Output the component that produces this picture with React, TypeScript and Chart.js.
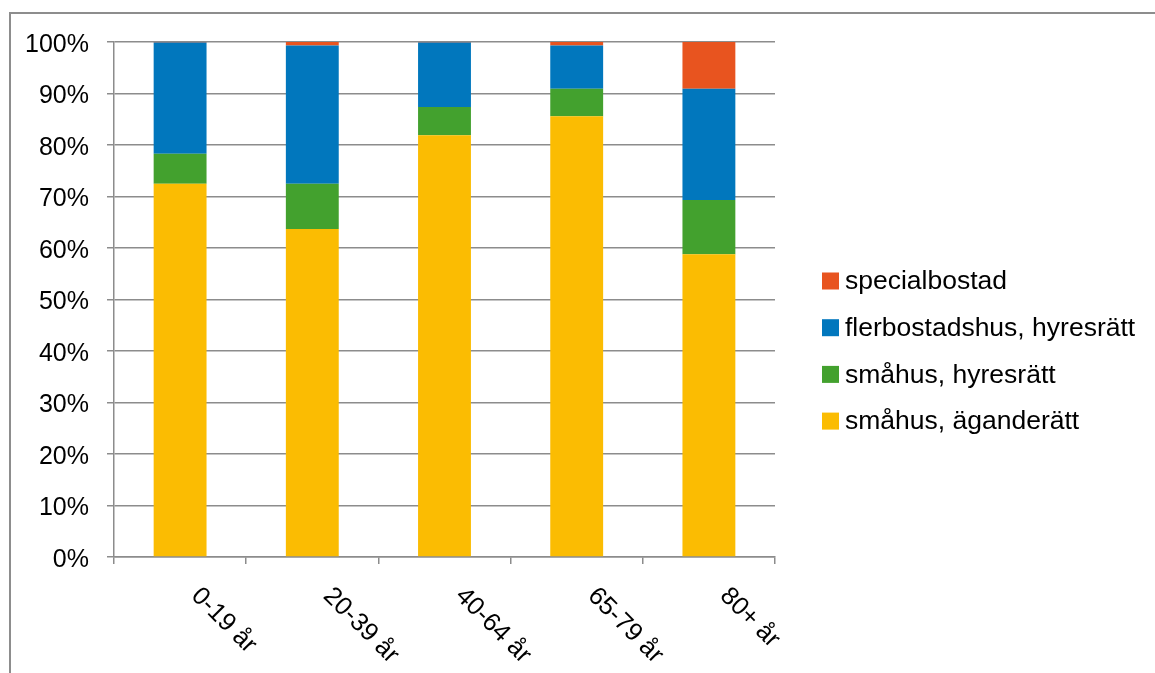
import React, { useEffect, useRef } from "react";
import { Chart, registerables } from "chart.js";

Chart.register(...registerables);

const categories = ["0-19 år", "20-39 år", "40-64 år", "65-79 år", "80+ år"];
const smahusAganderatt = [72.5, 63.7, 81.9, 85.6, 58.8];
const smahusHyresratt = [5.8, 8.8, 5.5, 5.3, 10.5];
const flerbostadshusHyresratt = [21.6, 26.8, 12.5, 8.4, 21.6];
const specialbostad = [0.1, 0.7, 0.1, 0.7, 9.1];
const yTicks = [0, 10, 20, 30, 40, 50, 60, 70, 80, 90, 100];

const FONT = '"Liberation Sans", Arial, sans-serif';
const GRID = "#8c8c8c";

const xLabelPlugin = {
  id: "xLabels",
  afterDraw(chart: any) {
    const xs = chart.scales.x;
    const ctx = chart.ctx;
    ctx.save();
    ctx.font = `25.5px ${FONT}`;
    ctx.fillStyle = "#000";
    ctx.textAlign = "left";
    ctx.textBaseline = "middle";
    const labels = chart.data.labels as string[];
    labels.forEach((lab, i) => {
      const x = xs.getPixelForValue(i);
      ctx.save();
      ctx.translate(x + 15, xs.top + 35);
      ctx.rotate(Math.PI / 4);
      ctx.fillText(lab, 0, 0);
      ctx.restore();
    });
    ctx.restore();
  },
};

const legendPlugin = {
  id: "customLegend",
  afterDraw(chart: any) {
    const ctx = chart.ctx;
    const ds = chart.data.datasets.slice().reverse();
    ctx.save();
    ctx.font = `26.5px ${FONT}`;
    ctx.textAlign = "left";
    ctx.textBaseline = "middle";
    ds.forEach((d: any, i: number) => {
      const cy = 281 + i * 46.7;
      ctx.fillStyle = d.backgroundColor;
      ctx.fillRect(822, cy - 8.5, 17, 17);
      ctx.fillStyle = "#000";
      ctx.fillText(d.label, 845, cy + 1);
    });
    ctx.restore();
  },
};

export default function App() {
  const ref = useRef<HTMLCanvasElement | null>(null);
  useEffect(() => {
    if (!ref.current) return;
    const chart = new Chart(ref.current, {
      type: "bar",
      data: {
        labels: categories,
        datasets: [
          { label: "småhus, äganderätt", data: smahusAganderatt, backgroundColor: "#FBBC02" },
          { label: "småhus, hyresrätt", data: smahusHyresratt, backgroundColor: "#43A12E" },
          { label: "flerbostadshus, hyresrätt", data: flerbostadshusHyresratt, backgroundColor: "#0177BD" },
          { label: "specialbostad", data: specialbostad, backgroundColor: "#E8541F" },
        ],
      },
      options: {
        responsive: false,
        animation: false,
        devicePixelRatio: 1,
        layout: { padding: { left: 0, top: 42, right: 380, bottom: 0 } },
        datasets: { bar: { barPercentage: 0.4, categoryPercentage: 1 } },
        plugins: { legend: { display: false }, tooltip: { enabled: false } },
        scales: {
          x: {
            stacked: true,
            grid: {
              offset: true,
              drawOnChartArea: false,
              drawTicks: true,
              tickLength: 7,
              color: GRID,
              lineWidth: 1.5,
            },
            border: { display: true, color: GRID, width: 1.5 },
            ticks: { display: false },
            afterFit: (s: any) => {
              s.height = 116;
            },
          },
          y: {
            stacked: true,
            min: 0,
            max: 100,
            afterBuildTicks: (s: any) => {
              s.ticks = yTicks.map((v) => ({ value: v }));
            },
            ticks: {
              stepSize: 10,
              padding: 18,
              labelOffset: 3,
              color: "#000",
              font: { family: FONT, size: 25 },
              callback: (v: any) => `${v}%`,
            },
            grid: { color: GRID, lineWidth: 1.5, tickLength: 7, drawTicks: true },
            border: { display: true, color: GRID, width: 1.5 },
            afterFit: (s: any) => {
              s.width = 114;
            },
          },
        },
      },
      plugins: [xLabelPlugin, legendPlugin],
    });
    return () => chart.destroy();
  }, []);

  return (
    <div style={{ position: "fixed", left: 0, top: 0, width: 1155, height: 673, overflow: "hidden", background: "#fff" }}>
      <div
        style={{
          position: "absolute",
          left: 9,
          top: 12,
          width: 1300,
          height: 800,
          borderLeft: "2px solid #8d8d8d",
          borderTop: "2px solid #8d8d8d",
        }}
      />
      <canvas ref={ref} width={1155} height={673} style={{ position: "absolute", left: 0, top: 0 }} />
    </div>
  );
}
